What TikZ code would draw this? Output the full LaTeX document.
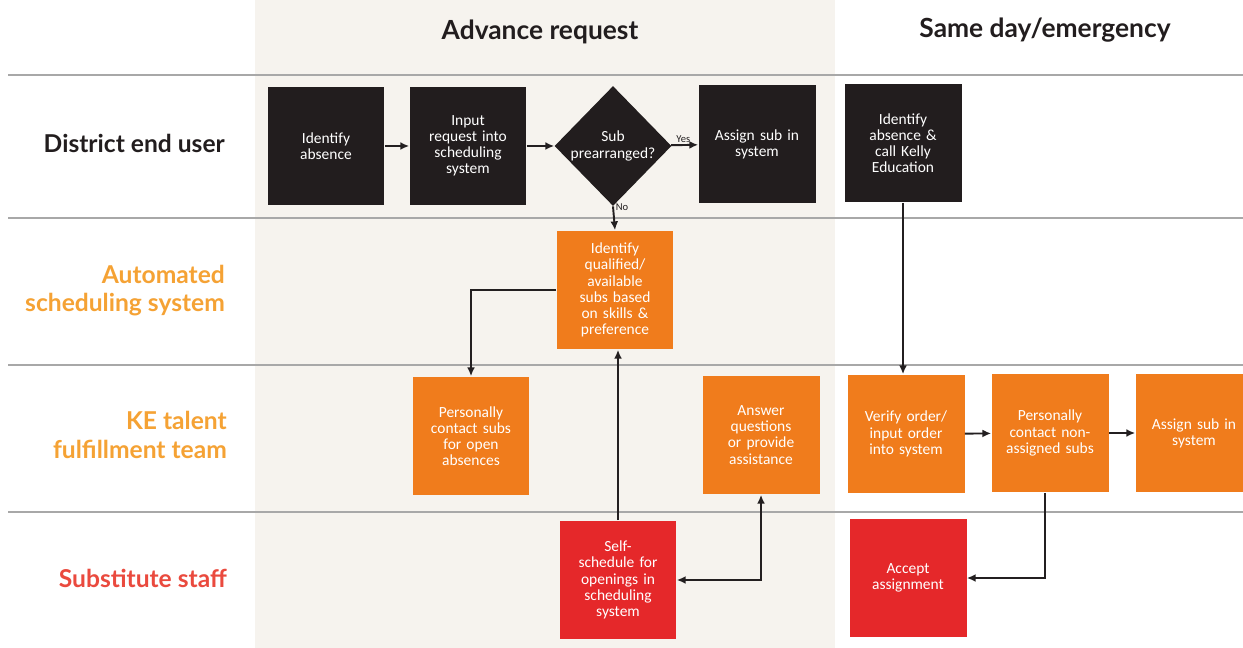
\documentclass[tikz,border=0pt]{standalone}
\usepackage{fontspec}
\setmainfont{Carlito}
\newfontfamily\headfont{Lato}
\usetikzlibrary{shapes.geometric,arrows.meta}
\definecolor{bgcol}{HTML}{F6F3EE}
\definecolor{blackbox}{HTML}{221D1E}
\definecolor{orangebox}{HTML}{F07C1C}
\definecolor{redbox}{HTML}{E5282A}
\definecolor{laborange}{HTML}{F5A234}
\definecolor{labred}{HTML}{EA4A3E}
\definecolor{lanecol}{HTML}{A8A8A8}
\definecolor{arrcol}{HTML}{231F20}
\begin{document}
\begin{tikzpicture}[x=0.02cm,y=-0.02cm,
  boxbase/.style={rectangle, minimum width=2.34cm, minimum height=2.38cm, inner sep=0pt,
    text width=2.15cm, align=center, text=white, font=\fontsize{8.8}{9.2}\selectfont},
  bbox/.style={boxbase, fill=blackbox},
  obox/.style={boxbase, fill=orangebox},
  rbox/.style={boxbase, fill=redbox},
  dbox/.style={diamond, fill=blackbox, minimum width=2.34cm, minimum height=2.4cm, inner sep=0pt,
    text=white, align=center, font=\fontsize{8.8}{9.2}\selectfont},
  arr/.style={draw=arrcol, line width=1.1pt, -{Latex[length=5pt,width=4.5pt]}},
  arrboth/.style={draw=arrcol, line width=1.1pt, {Latex[length=5pt,width=4.5pt]}-{Latex[length=5pt,width=4.5pt]}},
  lane/.style={draw=lanecol, line width=0.6pt},
  head/.style={font=\headfont\bfseries\fontsize{15}{17}\selectfont, text=blackbox},
  rowlab/.style={font=\headfont\bfseries\fontsize{14}{16}\selectfont, align=right, anchor=east},
  small/.style={font=\fontsize{6}{6.5}\selectfont, text=arrcol, inner sep=1pt}
]
\useasboundingbox (0,0) rectangle (1243,648);
\clip (0,0) rectangle (1243,648);
\fill[white] (0,0) rectangle (1243,648);
\fill[bgcol] (255,0) rectangle (835,648);
% lanes
\draw[lane] (8,75) -- (1243,75);
\draw[lane] (8,218) -- (1243,218);
\draw[lane] (8,365) -- (1243,365);
\draw[lane] (8,512) -- (1243,512);
% headings
\node[head] (h1) at (540,32) {Advance request};
\node[head] (h2) at (1045,30) {Same day/emergency};
% row labels
\node[rowlab, text=blackbox] (r1) at (231,143) {District end user};
\node[rowlab, text=laborange] (r2) at (231,291) {Automated\\scheduling system};
\node[rowlab, text=laborange] (r3) at (233,435) {KE talent\\fulfillment team};
\node[rowlab, text=labred] (r4) at (233,578) {Substitute staff};
% row 1
\node[bbox] (ia) at (326,146) {Identify\\absence};
\node[bbox] (inp) at (468,146) {Input\\request into\\scheduling\\system};
\node[dbox] (dia) at (613,146) {Sub\\prearranged?};
\node[bbox] (as1) at (757,144) {Assign sub in\\system\\[8pt]};
\node[bbox] (ic) at (903,143) {Identify\\absence \&\\call Kelly\\Education};
% row 2
\node[obox] (iq) at (615,290) {Identify\\qualified/\\available\\subs based\\on skills \&\\preference};
% row 3
\node[obox] (pc) at (471,436) {Personally\\contact subs\\for open\\absences};
\node[obox] (aq) at (761,435) {Answer\\questions\\or provide\\assistance};
\node[obox] (vo) at (906,434) {Verify order/\\input order\\into system};
\node[obox] (pn) at (1050,433) {Personally\\contact non-\\assigned subs\\[4pt]};
\node[obox] (as2) at (1194,433) {Assign sub in\\system\\[14pt]};
% row 4
\node[rbox] (ss) at (618,580) {Self-\\schedule for\\openings in\\scheduling\\system};
\node[rbox] (aa) at (908,578) {Accept\\assignment};
% connectors
\coordinate (kx) at (1045,0);
\draw[arr] (ia) -- (inp);
\draw[arr] (inp) -- (dia);
\draw[arr] (dia) -- node[small, above, pos=0.45] {Yes} (as1);
\draw[arr] (dia.south) -- node[small, right, pos=0.05] {No} (iq.north);
\draw[arr] (iq.west) -| (pc.north);
\draw[arr] (ss.north) -- (ss.north |- iq.south);
\draw[arrboth] (ss.east) -| (aq.south);
\draw[arr] (ic.south) -- (ic.south |- vo.north);
\draw[arr] (vo) -- (pn);
\draw[arr] (pn) -- (as2);
\draw[arr] (pn.south -| kx) |- (aa.east);
\end{tikzpicture}
\end{document}
